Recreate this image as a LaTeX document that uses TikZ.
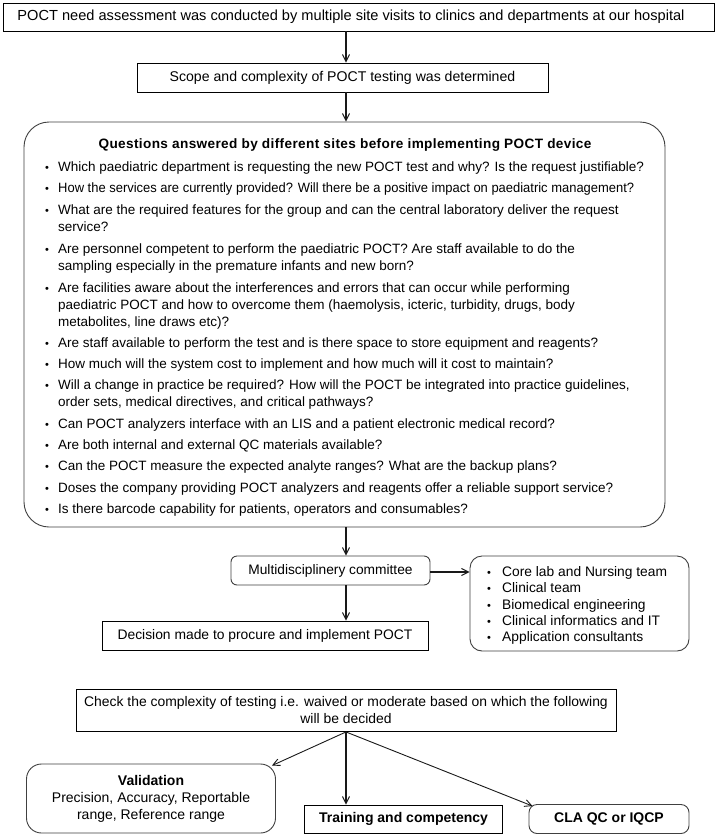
\documentclass[tikz,border=0pt]{standalone}
\usepackage{fontspec}
\setmainfont{Liberation Sans}
\newfontfamily\narrowfont[FakeStretch=0.96]{Liberation Sans}
\newfontfamily\spacedfont[LetterSpace=2.7]{Liberation Sans}
\usetikzlibrary{arrows.meta}
\tikzset{
  box/.style={draw=black, line width=0.9pt, inner sep=0pt, align=center},
  rbox/.style={draw=black!75, line width=0.9pt, inner sep=0pt, align=center},
  arr/.style={line width=1.8pt, black!90, -{Straight Barb[length=7pt,width=7pt,line width=1pt]}},
  thinarr/.style={line width=0.9pt, black!90, -{Straight Barb[length=7pt,width=7pt,line width=0.9pt]}},
  qt/.style={anchor=base west, inner sep=0pt, align=left, font=\fontsize{13.5}{17}\selectfont},
  qb/.style={anchor=base west, inner sep=0pt, font=\fontsize{11}{17}\selectfont},
  tb/.style={anchor=base west, inner sep=0pt, font=\fontsize{11}{16.4}\selectfont},
  tt/.style={anchor=base west, inner sep=0pt, font=\fontsize{13.8}{16.4}\selectfont},
}
% #2 = baseline of first line, #3 = baseline of last line
\newcommand\qitem[4]{\node[qb] (#1b) at (45,#2) {\textbullet}; \node[qt] (#1) at (58,#3) {#4};}
\begin{document}
\begin{tikzpicture}[x=1pt,y=-1pt]
\useasboundingbox (0,0) rectangle (720,835);
\fill[white] (0,0) rectangle (720,835);
\coordinate (ax) at (346,0);

\node[box, minimum width=711pt, minimum height=28pt] (n1) at (358.5,17) {};
\node[inner sep=0pt, font=\fontsize{14.6}{16}\selectfont] (n1t) at (351,17) {POCT need assessment was conducted by multiple site visits to clinics and departments at our hospital};
\node[box, minimum width=411pt, minimum height=29pt, font=\fontsize{14.1}{16}\selectfont] (n2) at (342.5,77.5) {Scope and complexity of POCT testing was determined};

\node[rbox, rounded corners=25pt, minimum width=641pt, minimum height=405pt] (big) at (344.5,324.5) {};
\node[anchor=base, inner sep=0pt, font=\spacedfont\bfseries\fontsize{13.6}{16}\selectfont] (qtitle) at (345,148) {Questions answered by different sites before implementing POCT device};

\qitem{q1}{171}{171}{Which paediatric department is requesting the new POCT test and why? Is the request justifiable?}
\qitem{q2}{192}{192}{\narrowfont How the services are currently provided? Will there be a positive impact on paediatric management?}
\qitem{q3}{214}{231}{What are the required features for the group and can the central laboratory deliver the request\\service?}
\qitem{q4}{253}{270}{Are personnel competent to perform the paediatric POCT? Are staff available to do the\\sampling especially in the premature infants and new born?}
\qitem{q5}{292}{326}{Are facilities aware about the interferences and errors that can occur while performing\\paediatric POCT and how to overcome them (haemolysis, icteric, turbidity, drugs, body\\metabolites, line draws etc)?}
\qitem{q6}{347}{347}{Are staff available to perform the test and is there space to store equipment and reagents?}
\qitem{q7}{368}{368}{How much will the system cost to implement and how much will it cost to maintain?}
\qitem{q8}{389}{406}{Will a change in practice be required? How will the POCT be integrated into practice guidelines,\\order sets, medical directives, and critical pathways?}
\qitem{q9}{428}{428}{Can POCT analyzers interface with an LIS and a patient electronic medical record?}
\qitem{q10}{449}{449}{Are both internal and external QC materials available?}
\qitem{q11}{470}{470}{Can the POCT measure the expected analyte ranges? What are the backup plans?}
\qitem{q12}{492}{492}{Doses the company providing POCT analyzers and reagents offer a reliable support service?}
\qitem{q13}{513}{513}{Is there barcode capability for patients, operators and consumables?}

\node[rbox, rounded corners=6pt, minimum width=199pt, minimum height=29pt, font=\fontsize{13.75}{16}\selectfont] (mdc) at (330.5,570.5) {Multidisciplinery committee};
\node[rbox, rounded corners=12pt, minimum width=219pt, minimum height=95pt] (team) at (579.5,603.5) {};
\node[tb] (t1b) at (487,576) {\textbullet}; \node[tt] (t1) at (502,576) {Core lab and Nursing team};
\node[tb] (t2b) at (487,592) {\textbullet}; \node[tt] (t2) at (502,592) {Clinical team};
\node[tb] (t3b) at (487,609) {\textbullet}; \node[tt] (t3) at (502,609) {Biomedical engineering};
\node[tb] (t4b) at (487,625) {\textbullet}; \node[tt] (t4) at (502,625) {Clinical informatics and IT};
\node[tb] (t5b) at (487,641) {\textbullet}; \node[tt] (t5) at (502,641) {Application consultants};

\node[box, minimum width=326pt, minimum height=29pt, font=\fontsize{13.85}{16}\selectfont] (dec) at (265,635.5) {Decision made to procure and implement POCT};

\node[box, minimum width=540pt, minimum height=42pt, font=\fontsize{13.9}{17}\selectfont] (chk) at (346,710.5) {Check the complexity of testing i.e. waived or moderate based on which the following\\will be decided};

\node[rbox, rounded corners=15pt, minimum width=249pt, minimum height=69pt, font=\fontsize{14}{17}\selectfont] (val) at (151,798.5) {\textbf{Validation}\\Precision, Accuracy, Reportable\\range, Reference range};
\node[box, minimum width=198pt, minimum height=28pt, font=\bfseries\fontsize{14}{16}\selectfont] (trn) at (403.5,819) {Training and competency};
\node[rbox, rounded corners=8pt, minimum width=160pt, minimum height=29pt, font=\bfseries\fontsize{14}{16}\selectfont] (cla) at (609,819) {CLA QC or IQCP};

\draw[arr] (n1.south -| ax) -- (n2.north -| ax);
\draw[arr] (n2.south -| ax) -- (big.north -| ax);
\draw[arr] (big.south -| ax) -- (mdc.north -| ax);
\draw[arr] (mdc.south -| ax) -- (dec.north -| ax);
\draw[arr] (mdc.east |- 0,572) -- (team.west |- 0,572);
\draw[arr] (chk.south -| ax) -- (trn.north -| ax);
\draw[thinarr] (chk.south -| ax) -- ([xshift=-4pt,yshift=-2pt]val.north east);
\draw[thinarr] (chk.south -| ax) -- ([xshift=4pt,yshift=-2pt]cla.north west);
\end{tikzpicture}
\end{document}
